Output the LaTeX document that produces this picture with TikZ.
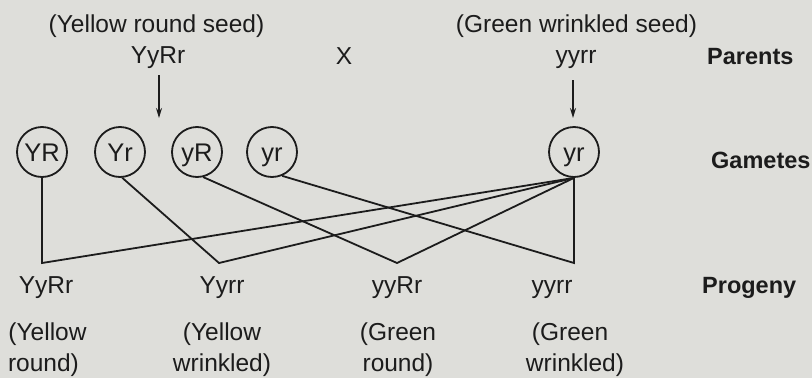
\documentclass[tikz,border=0pt]{standalone}
\usepackage{fontspec}
\setmainfont{Liberation Sans}
\usetikzlibrary{arrows.meta}
\definecolor{paper}{RGB}{222,222,218}
\definecolor{ink}{RGB}{28,28,28}
\begin{document}
\begin{tikzpicture}[x=1pt,y=-1pt,
  lbl/.style={anchor=base,inner sep=0pt,font=\fontsize{24.5}{28}\selectfont,text=ink},
  hd/.style={anchor=base west,inner sep=0pt,font=\fontsize{23.5}{28}\selectfont\bfseries,text=ink},
  gam/.style={circle,draw=ink,line width=1.8pt,minimum size=50pt,inner sep=0pt,
    text height=18pt,text depth=0pt,font=\fontsize{25.5}{28}\selectfont,text=ink},
  conn/.style={draw=ink,line width=1.8pt},
  arr/.style={draw=ink,line width=1.4pt,-{Stealth[length=10pt,width=6pt]}}]
\path[use as bounding box,fill=paper] (0,0) rectangle (812,378);
% parents
\node[lbl] (pl1) at (156.5,32) {(Yellow round seed)};
\node[lbl] (pl2) at (576.5,32) {(Green wrinkled seed)};
\node[lbl] (g1) at (158,63) {YyRr};
\node[lbl] (cross) at (344,64) {X};
\node[lbl] (g2) at (576,63) {yyrr};
\node[hd] (parents) at (707,64) {Parents};
% gametes
\node[gam] (c1) at (42,152) {YR};
\node[gam] (c2) at (120,152) {Yr};
\node[gam] (c3) at (197,152) {yR};
\node[gam] (c4) at (272,152) {yr};
\node[gam] (c5) at (574,152) {yr};
\node[hd] (gametes) at (711,168) {Gametes};
% arrows
\coordinate (a1) at (159,118);
\coordinate (a2) at (573,118);
\draw[arr,shorten <=7pt] (g1.south -| a1) -- (a1);
\draw[arr,shorten <=12pt] (g2.south -| a2) -- (a2);
% connectors
\coordinate (b1) at (42,263);
\coordinate (b2) at (219,263);
\coordinate (b3) at (397,263);
\coordinate (b4) at (574,263);
\draw[conn] (c1.south) -- (b1) -- (c5.south);
\draw[conn] (c2.-85) -- (b2) -- (c5.south);
\draw[conn] (c3.-76) -- (b3) -- (c5.south);
\draw[conn] (c4.-67) -- (b4) -- (c5.south);
% progeny
\node[lbl] (o1) at (46,293) {YyRr};
\node[lbl] (o2) at (222,293) {Yyrr};
\node[lbl] (o3) at (397,293) {yyRr};
\node[lbl] (o4) at (552,293) {yyrr};
\node[hd] (progeny) at (702,293) {Progeny};
\node[lbl] (d1a) at (47.5,340) {(Yellow};
\node[lbl] (d1b) at (43.5,371) {round)};
\node[lbl] (d2a) at (222,340) {(Yellow};
\node[lbl] (d2b) at (222,371) {wrinkled)};
\node[lbl] (d3a) at (398,340) {(Green};
\node[lbl] (d3b) at (398,371) {round)};
\node[lbl] (d4a) at (570,340) {(Green};
\node[lbl] (d4b) at (575,371) {wrinkled)};
\end{tikzpicture}
\end{document}
